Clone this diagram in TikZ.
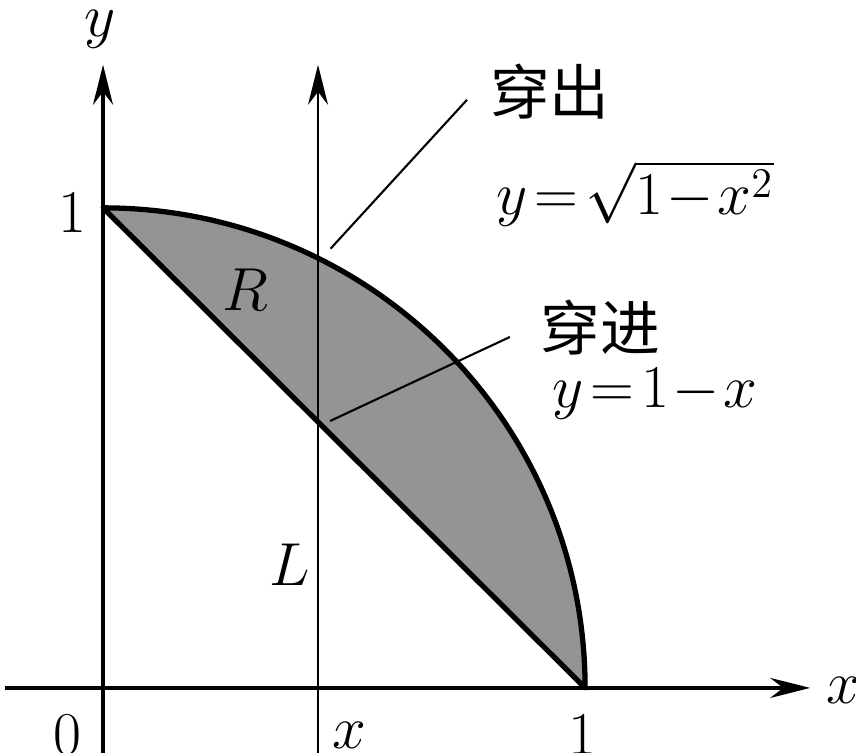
\documentclass[tikz,border=0pt]{standalone}
\usepackage{fontspec}
\newfontfamily\cjk{Noto Sans CJK SC}
\usepackage{tikz}
\usetikzlibrary{arrows.meta,calc}

\begin{document}
\begin{tikzpicture}[
    x=4.82cm, y=4.8cm,
    font=\fontsize{17}{20}\selectfont,
    axis/.style={line width=0.9pt, -{Stealth[length=4mm, width=2mm]}},
    region/.style={fill=black!42, draw=black, line width=1.5pt, line join=round},
    leader/.style={line width=0.6pt},
    lbl/.style={inner sep=1pt},
    eq/.style={lbl, execute at begin node={\medmuskip=1mu\thickmuskip=2mu}}
]
    \useasboundingbox (-0.2137,-0.1354) rectangle (1.562,1.433);

    % shaded region between the line and the quarter circle
    \filldraw[region] (0,1) arc[start angle=90, end angle=0, radius=1] -- cycle;

    % axes and the line through x
    \coordinate (xs) at (-0.203,0);
    \coordinate (xe) at (1.467,0);
    \coordinate (ys) at (0,-0.1354);
    \coordinate (ye) at (0,1.298);
    \coordinate (ls) at (0.446,-0.1354);
    \coordinate (le) at (0.446,1.298);
    \draw[axis] (xs) -- (xe);
    \draw[axis] (ys) -- (ye);
    \draw[axis, line width=0.7pt] (ls) -- (le);

    % labels
    \node[lbl] (ylab) at (-0.006,1.371) {$y$};
    \node[lbl] (xlab) at (1.535,-0.006) {$x$};
    \node[lbl] (zero) at (-0.073,-0.098) {$0$};
    \node[lbl] (xpos) at (0.512,-0.098) {$x$};
    \node[lbl] (one)  at (0.994,-0.098) {$1$};
    \node[lbl] (yone) at (-0.064,0.99) {$1$};
    \node[lbl] (R) at (0.295,0.829) {$R$};
    \node[lbl] (L) at (0.388,0.256) {$L$};

    \node[lbl] (out) at (0.927,1.242) {\cjk 穿出};
    \node[eq] (outeq) at (1.104,1.03) {$y=\sqrt{1-x^2}$};
    \node[lbl] (in) at (1.031,0.75) {\cjk 穿进};
    \node[eq] (ineq) at (1.145,0.612) {$y=1-x$};

    % leader lines
    \coordinate (outa) at (0.472,0.915);
    \coordinate (outb) at (0.755,1.225);
    \coordinate (ina) at (0.471,0.556);
    \coordinate (inb) at (0.844,0.731);
    \draw[leader] (outa) -- (outb);
    \draw[leader] (ina) -- (inb);
\end{tikzpicture}
\end{document}
